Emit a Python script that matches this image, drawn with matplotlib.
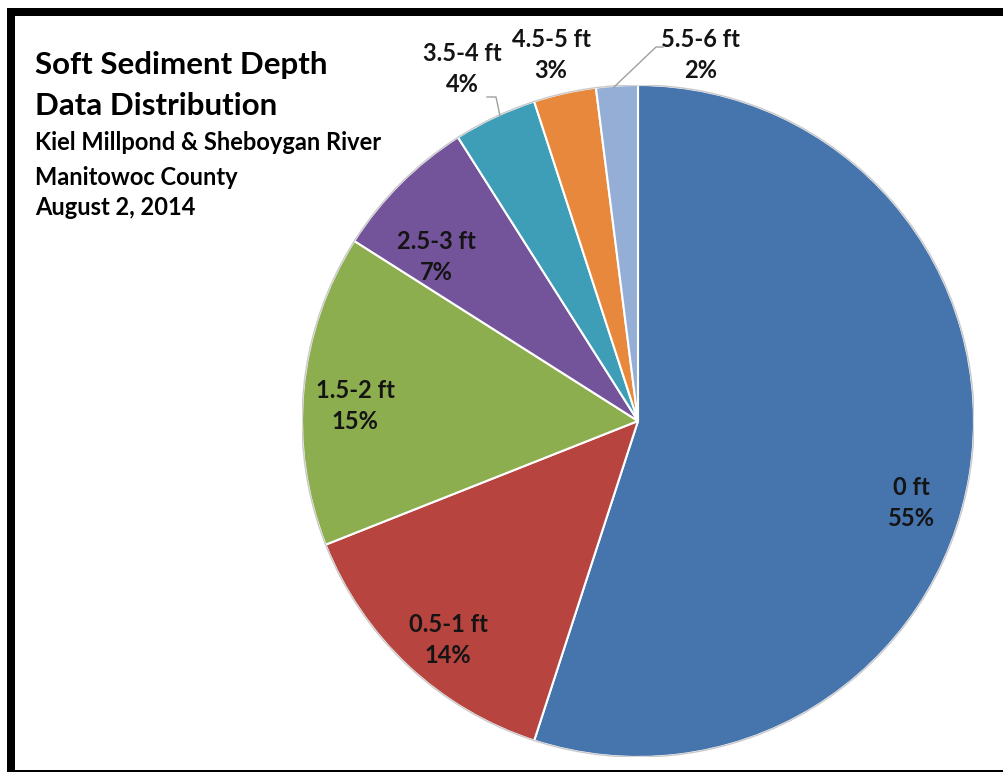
import matplotlib
matplotlib.use("Agg")
import matplotlib.pyplot as plt
from matplotlib.lines import Line2D
from matplotlib.patches import Circle

# ---- data ----
categories = ["0 ft", "0.5-1 ft", "1.5-2 ft", "2.5-3 ft", "3.5-4 ft", "4.5-5 ft", "5.5-6 ft"]
percents = [55, 14, 15, 7, 4, 3, 2]
colors = ["#4674AC", "#B8443F", "#8DAE4F", "#73549A", "#3E9EB8", "#E8883C", "#94AED6"]

title_lines = ["Soft Sediment Depth", "Data Distribution"]
subtitle_lines = ["Kiel Millpond & Sheboygan River", "Manitowoc County", "August 2, 2014"]

# label positions (data coords, pie radius = 1)
label_pos = [(0.815, -0.244), (-0.565, -0.652), (-0.842, 0.045), (-0.601, 0.488),
             (-0.524, 1.048), (-0.259, 1.089), (0.185, 1.089)]

FONT = "Lato"
W, H = 1004, 772
fig = plt.figure(figsize=(W / 100, H / 100), dpi=100)
fig.patch.set_facecolor("white")

cx, cy, r = 638, 421, 336
ax = fig.add_axes([(cx - r) / W, (H - cy - r) / H, 2 * r / W, 2 * r / H])
ax.set_xlim(-1, 1)
ax.set_ylim(-1, 1)
ax.set_aspect("equal")
ax.axis("off")

wedges, _ = ax.pie(percents, colors=colors, startangle=90, counterclock=False,
                   radius=1.0, center=(0, 0),
                   wedgeprops=dict(edgecolor="white", linewidth=1.5))
ax.add_patch(Circle((0, 0), 1.0, fill=False, edgecolor="#c9c9c9", linewidth=1.0))
ax.set_xlim(-1, 1)
ax.set_ylim(-1, 1)

for cat, p, (lx, ly) in zip(categories, percents, label_pos):
    ax.text(lx, ly, f"{cat}\n{p}%", ha="center", va="center", fontsize=17,
            fontweight="bold", family=FONT, color="#141414", linespacing=1.4,
            clip_on=False)

# leader lines
ax.add_line(Line2D([(487 - cx) / r, (496 - cx) / r, (500 - cx) / r],
                   [(cy - 97) / r, (cy - 97) / r, (cy - 116) / r],
                   color="#a0a0a0", lw=1, clip_on=False))
ax.add_line(Line2D([(663 - cx) / r, (656 - cx) / r, (614 - cx) / r],
                   [(cy - 47) / r, (cy - 47) / r, (cy - 87) / r],
                   color="#a0a0a0", lw=1, clip_on=False))

# title block
fig.text(35 / W, 1 - 74 / H, title_lines[0], fontsize=22.5, fontweight="bold",
         family=FONT, va="baseline", ha="left", color="black")
fig.text(35 / W, 1 - 115 / H, title_lines[1], fontsize=22.5, fontweight="bold",
         family=FONT, va="baseline", ha="left", color="black")
for s, yb in zip(subtitle_lines, [150, 185, 215]):
    fig.text(35 / W, 1 - yb / H, s, fontsize=17, fontweight="bold",
             family=FONT, va="baseline", ha="left", color="black")

# black border (top, left, bottom)
fig.add_artist(Line2D([7 / W, 1.0], [1 - 12 / H, 1 - 12 / H], color="black",
                      lw=8 * 0.72, solid_capstyle="butt"))
fig.add_artist(Line2D([11 / W, 11 / W], [1 - 8 / H, 0], color="black",
                      lw=8 * 0.72, solid_capstyle="butt"))
fig.add_artist(Line2D([7 / W, 1.0], [1.5 / H, 1.5 / H], color="black",
                      lw=3 * 0.72, solid_capstyle="butt"))

fig.savefig("out.png", dpi=100)
